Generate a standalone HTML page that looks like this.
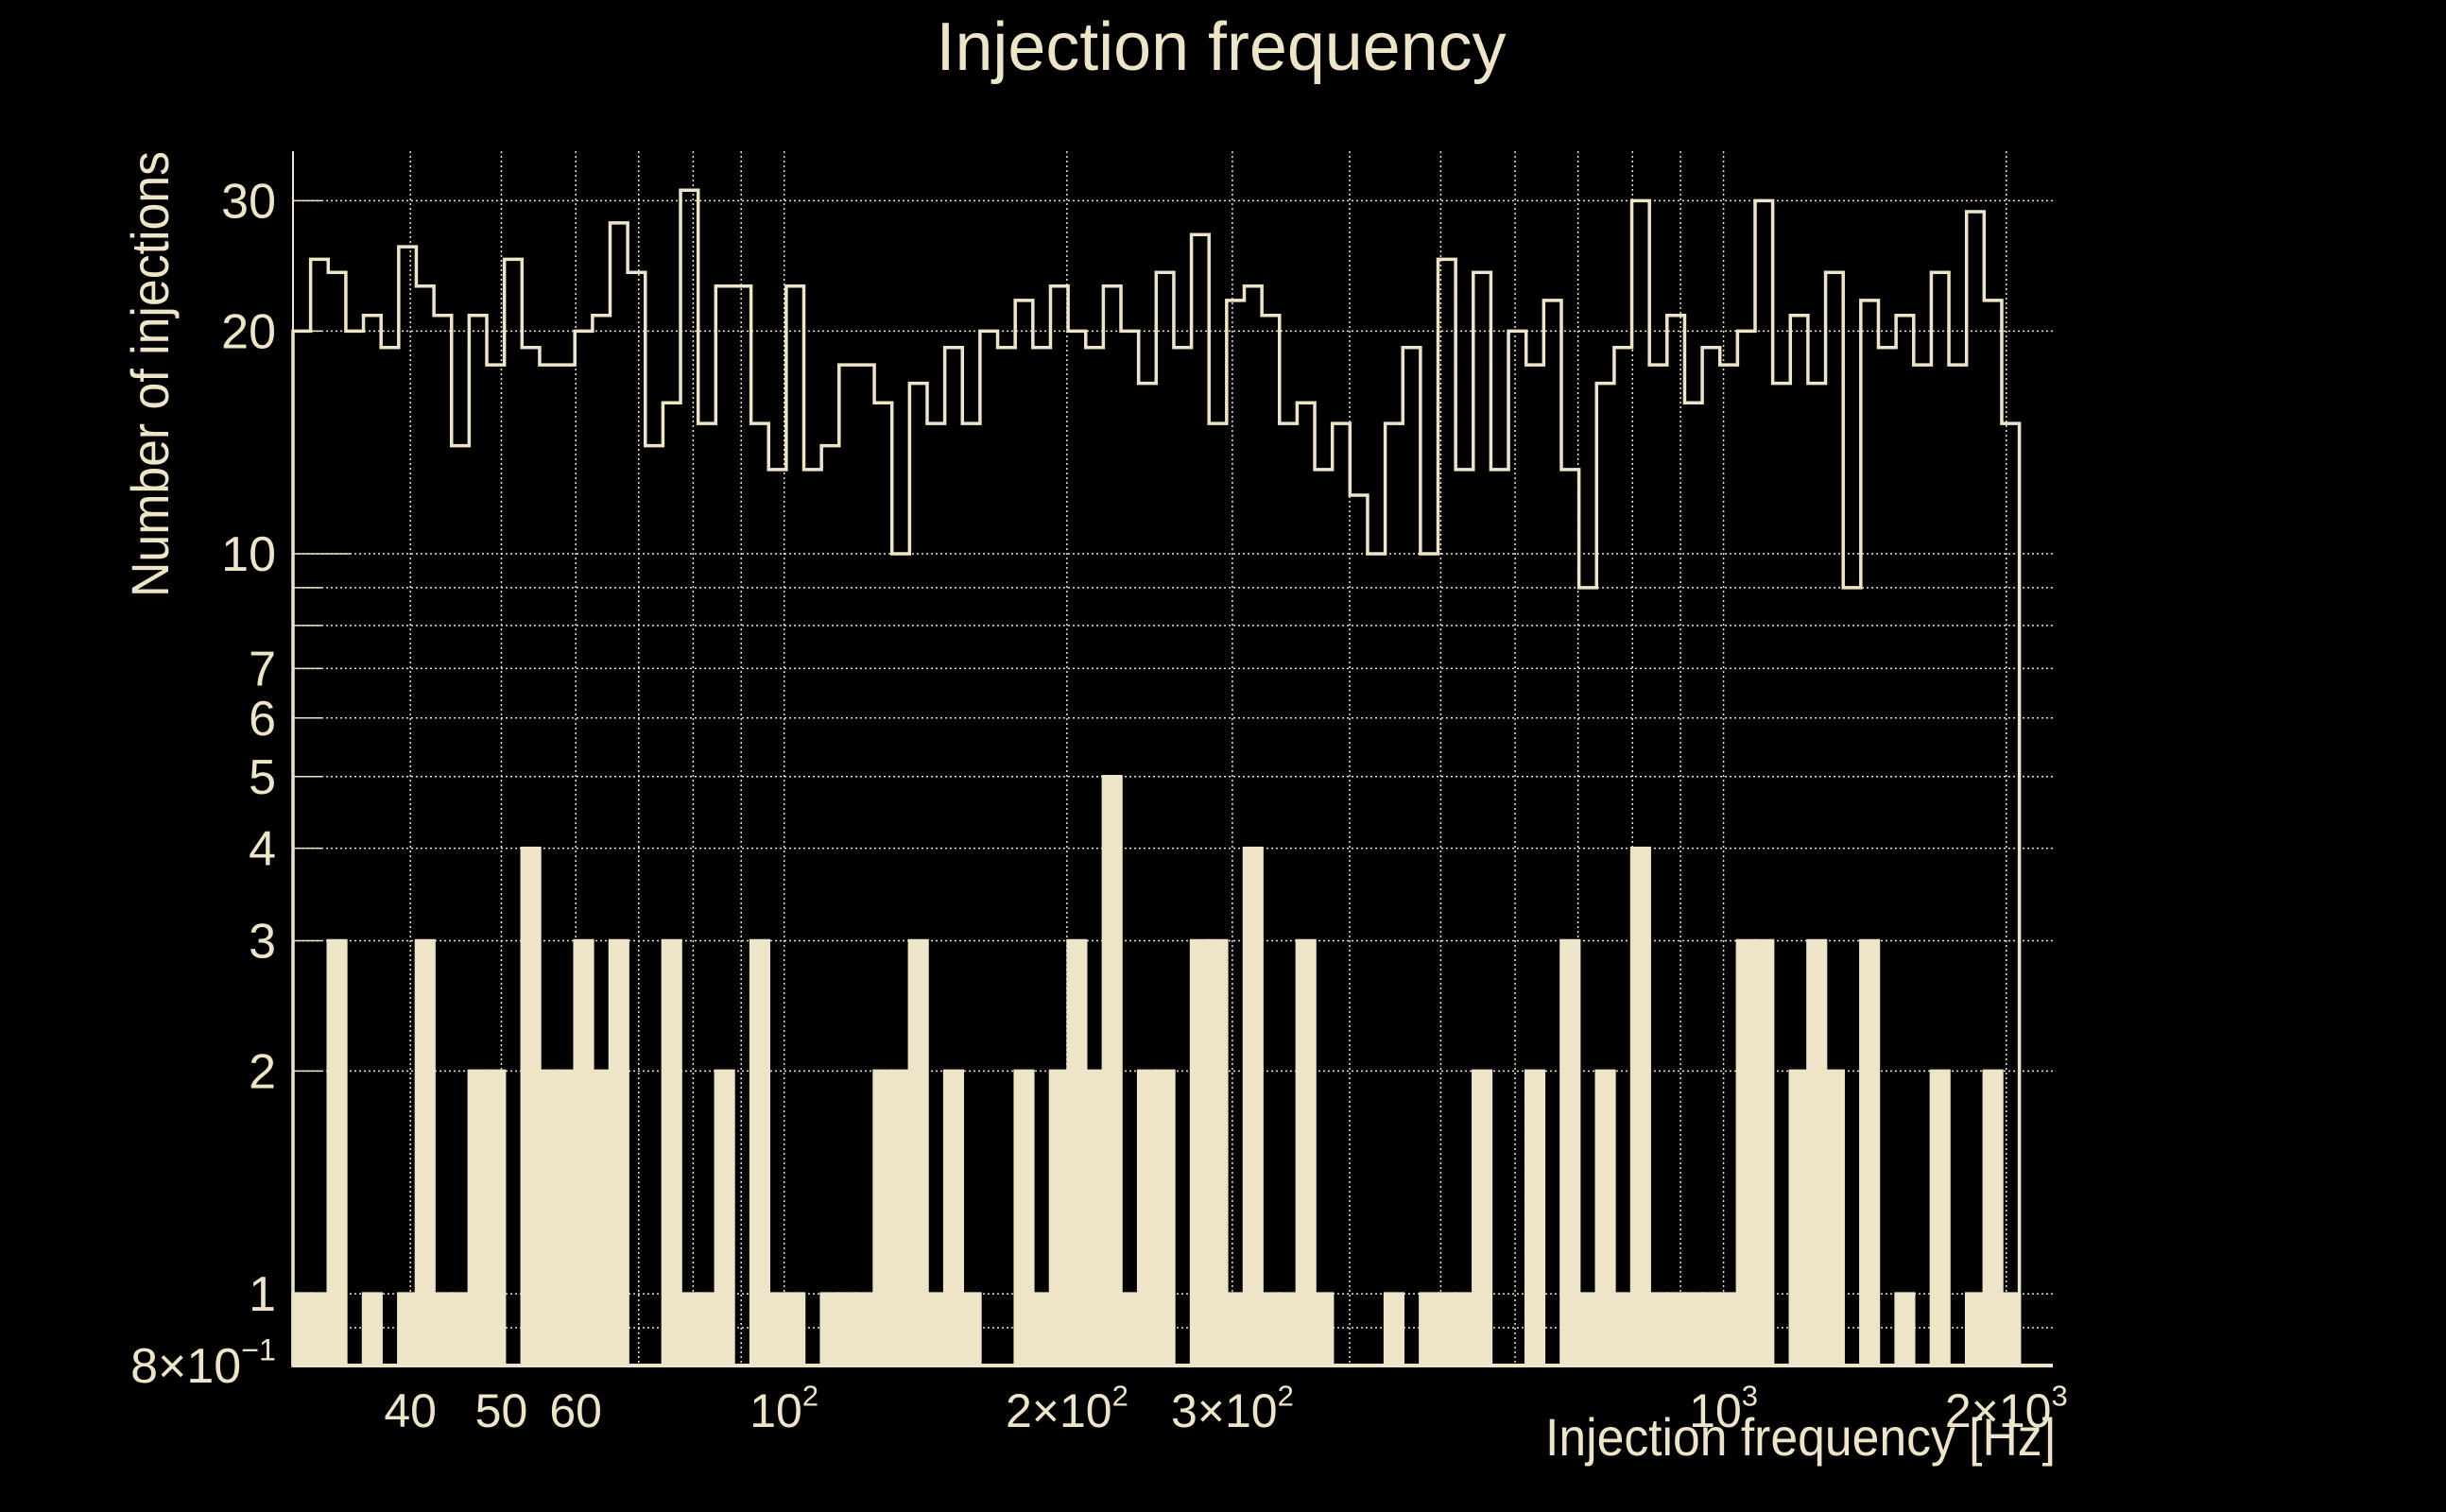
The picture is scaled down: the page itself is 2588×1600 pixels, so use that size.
<!DOCTYPE html>
<html><head><meta charset="utf-8"><title>Injection frequency</title>
<style>
html,body{margin:0;padding:0;background:#000;}
svg{display:block;}
text{font-family:"Liberation Sans",Arial,sans-serif;fill:#EEE4C8;}
</style></head>
<body>
<svg id="chart" width="2588" height="1600" viewBox="0 0 2588 1600" xmlns="http://www.w3.org/2000/svg">
<rect x="0" y="0" width="2588" height="1600" fill="#000"/>
<g id="grid"></g>
<g id="bars"></g>
<g id="steps"></g>
<g id="axes"></g>
<text x="1292" y="74" text-anchor="middle" font-size="72" textLength="603" lengthAdjust="spacingAndGlyphs">Injection frequency</text>
<text x="2175" y="1540" text-anchor="end" font-size="56" textLength="540" lengthAdjust="spacingAndGlyphs">Injection frequency [Hz]</text>
<text transform="translate(178,160) rotate(-90)" text-anchor="end" font-size="56" textLength="472" lengthAdjust="spacingAndGlyphs">Number of injections</text>
</svg>
<script>
const totalCounts = [20,25,24,20,21,19,26,23,21,14,21,18,25,19,18,18,20,21,28,24,14,16,31,15,23,23,15,13,23,13,14,18,18,16,10,17,15,19,15,20,19,22,19,23,20,19,23,20,17,24,19,27,15,22,23,21,15,16,13,15,12,10,15,19,10,25,13,24,13,20,18,22,13,9,17,19,30,18,21,16,19,18,20,30,17,21,17,24,9,22,19,21,18,24,18,29,22,15];
const selectedCounts = [1,1,3,0,1,0,1,3,1,1,2,2,0,4,2,2,3,2,3,0,0,3,1,1,2,0,3,1,1,0,1,1,1,2,2,3,1,2,1,0,0,2,1,2,3,2,5,1,2,2,0,3,3,1,4,1,1,3,1,0,0,0,1,0,1,1,1,2,0,0,2,0,3,1,2,1,4,1,1,1,1,1,3,3,0,2,3,2,0,3,0,1,0,2,0,1,2,1];
const binRange = [30, 2065];
const xRange = [30, 2242];
const yRange = [0.8, 35];
const xTickValues = [40,50,60,100,200,300,1000,2000];
const xTickLabels = ["40","50","60","10|2","2\u00d710|2","3\u00d710|2","10|3","2\u00d710|3"];
const xGridValues = [40,50,60,70,80,90,100,200,300,400,500,600,700,800,900,1000,2000];
const yTickValues = [30,20,10,7,6,5,4,3,2,1,0.8];
const yTickLabels = ["30","20","10","7","6","5","4","3","2","1","8\u00d710|\u22121"];
const yGridValues = [30,20,10,9,8,7,6,5,4,3,2,1,0.9];

const NS="http://www.w3.org/2000/svg";
const C="#EEE4C8";
const L=310, R=2172, T=160, B=1445;
const PPD=993.9;
function xs(f){return L+(Math.log10(f)-Math.log10(xRange[0]))*PPD;}
const YPD=(B-T)/(Math.log10(yRange[1])-Math.log10(yRange[0]));
function ys(v){return B-(Math.log10(v)-Math.log10(yRange[0]))*YPD;}
function mk(tag,attrs,parent){const e=document.createElementNS(NS,tag);for(const k in attrs)e.setAttribute(k,attrs[k]);parent.appendChild(e);return e;}
const N=totalCounts.length;
const l0=Math.log10(binRange[0]), l1=Math.log10(binRange[1]);
function edge(i){return Math.pow(10,l0+(l1-l0)*i/N);}

const grid=document.getElementById('grid');
xGridValues.forEach(v=>{
  const x=xs(v);
  const ln=mk('line',{x1:x,x2:x,y1:T,y2:B,stroke:C,'stroke-width':1.5,'stroke-dasharray':'2 3'},grid);
  
  
});
yGridValues.forEach(v=>{
  const y=ys(v);
  const ln=mk('line',{x1:L,x2:R,y1:y,y2:y,stroke:C,'stroke-width':1.5,'stroke-dasharray':'2 3'},grid);
  
  
  const tk=mk('line',{x1:L,x2:L+(v===10?60:30),y1:y,y2:y,stroke:C,'stroke-width':1.5},grid);
  
  
});

const bars=document.getElementById('bars');
selectedCounts.forEach((v,i)=>{
  if(v<=0)return;
  const x0=xs(edge(i)), x1=xs(edge(i+1)), y=ys(v);
  const r=mk('rect',{x:x0,y:y,width:x1-x0,height:B-y,fill:C,stroke:C,'stroke-width':3.5},bars);
  
  
});

const steps=document.getElementById('steps');
let d='M'+xs(edge(0))+','+B;
totalCounts.forEach((v,i)=>{
  const y=ys(v);
  d+=' L'+xs(edge(i))+','+y+' L'+xs(edge(i+1))+','+y;
});
d+=' L'+xs(edge(N))+','+B;
const p=mk('path',{d:d,fill:'none',stroke:C,'stroke-width':3.5,'stroke-linejoin':'miter'},steps);



const axes=document.getElementById('axes');
const ya=mk('line',{x1:L,x2:L,y1:T,y2:B,stroke:C,'stroke-width':2},axes);


const xa=mk('line',{x1:L,x2:R,y1:B,y2:B,stroke:C,'stroke-width':4},axes);



function label(str,x,y,anchor,size){
  const parts=str.split('|');
  const t=mk('text',{x:x,y:y,'text-anchor':anchor,'font-size':size},axes);
  t.textContent=parts[0];
  if(parts.length>1){
    const s=mk('tspan',{dy:-size*0.45,'font-size':size*0.62},t);
    s.textContent=parts[1];
  }
  return t;
}
xTickValues.forEach((v,i)=>{
  const t=label(xTickLabels[i],xs(v),1510,'middle',50);
  
  
});
yTickValues.forEach((v,i)=>{
  const t=label(yTickLabels[i],292,ys(v)+18,'end',52);
  
  
});
</script>
</body></html>
